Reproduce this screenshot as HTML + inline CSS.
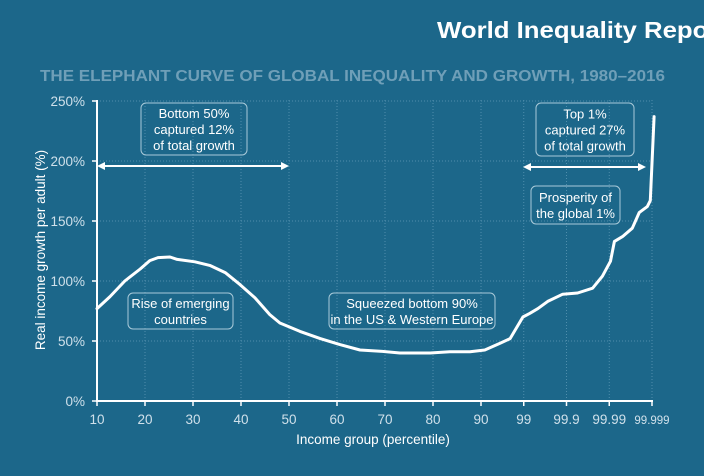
<!DOCTYPE html>
<html><head><meta charset="utf-8"><style>
html,body{margin:0;padding:0;background:#1c678a;overflow:hidden;}
svg{display:block;font-family:"Liberation Sans",sans-serif;}
</style></head><body>
<svg id="chart" width="704" height="476" viewBox="0 0 704 476">
<rect x="0" y="0" width="704" height="476" fill="#1c678a"/>
<text x="437" y="38" font-size="23" font-weight="bold" fill="#ffffff" textLength="290" lengthAdjust="spacingAndGlyphs">World Inequality Report</text>
<text x="40" y="81" font-size="16" font-weight="bold" fill="#6f9fb8" textLength="625" lengthAdjust="spacingAndGlyphs">THE ELEPHANT CURVE OF GLOBAL INEQUALITY AND GROWTH, 1980–2016</text>
<g id="grid"></g>
<g id="axes"></g>
<text transform="translate(45,250) rotate(-90)" font-size="13.5" fill="#ffffff" text-anchor="middle">Real income growth per adult (%)</text>
<text x="373" y="444" font-size="13.5" fill="#ffffff" text-anchor="middle">Income group (percentile)</text>
<g id="annot"></g>
<path id="curve" fill="none" stroke="#ffffff" stroke-width="3" stroke-linejoin="round" stroke-linecap="round"/>
</svg>
<script>
// x in "position index": 0..8 = percentiles 10..90, 9=99, 10=99.9, 11=99.99, 12=99.999
const xTickLabels = ["10","20","30","40","50","60","70","80","90","99","99.9","99.99","99.999"];
const yTickLabels = ["0%","50%","100%","150%","200%","250%"];
const yTickValues = [0,50,100,150,200,250];
const curveX = [0,0.27,0.58,0.90,1.10,1.27,1.52,1.67,2.04,2.35,2.67,2.98,3.29,3.60,3.81,4.23,4.65,5.06,5.48,5.90,6.31,6.94,7.35,7.77,8.09,8.44,8.68,8.98,9.14,9.33,9.56,9.91,10.26,10.61,10.84,11.03,11.12,11.31,11.54,11.70,11.89,11.96,12.05];
const curveY = [77,87,100,110,117,119.5,120,118,116,113,107,97,86,72,65,58,52,47,42.5,41.5,40,40,41,41,42.5,48,52,70,73,77,83,89,90,94,104,116.5,133,137,144,157,162,167,237];
const NS="http://www.w3.org/2000/svg";
function xs(i){return i<=8?97+48*i:481+42.75*(i-8);}
function ys(v){return 401-1.2*v;}
function mk(tag,attrs,parent){const e=document.createElementNS(NS,tag);for(const k in attrs)e.setAttribute(k,attrs[k]);parent.appendChild(e);return e;}
const grid=document.getElementById('grid'),axes=document.getElementById('axes'),ann=document.getElementById('annot');
yTickValues.forEach((v,i)=>{
  if(v>0){const l=mk('line',{x1:97,x2:652,y1:ys(v),y2:ys(v),stroke:'#4f8eac','stroke-width':1,'stroke-dasharray':'1,2'},grid);
  
  }
  const t=mk('line',{x1:92,x2:97,y1:ys(v),y2:ys(v),stroke:'#fff','stroke-width':1.5},axes);
  
  
  const tx=mk('text',{x:85,y:ys(v)+5,'font-size':13.5,fill:'#cfe0ea','text-anchor':'end'},axes);
  tx.textContent=yTickLabels[i];
  
  
});
xTickLabels.forEach((lab,i)=>{
  if(i>0){const l=mk('line',{x1:xs(i),x2:xs(i),y1:100,y2:401,stroke:'#4f8eac','stroke-width':1,'stroke-dasharray':'1,2'},grid);
  
  }
  const t=mk('line',{x1:xs(i),x2:xs(i),y1:401,y2:406,stroke:'#fff','stroke-width':1.5},axes);
  
  
  const tx=mk('text',{x:xs(i),y:424,'font-size':i==12?11.5:13.5,fill:'#cfe0ea','text-anchor':'middle'},axes);
  tx.textContent=lab;
  
  
});
const ya=mk('line',{x1:97,x2:97,y1:100,y2:401,stroke:'#fff','stroke-width':2},axes);


const xa=mk('line',{x1:96,x2:653,y1:401,y2:401,stroke:'#fff','stroke-width':2},axes);


let d='';curveX.forEach((x,i)=>{d+=(i?'L':'M')+xs(x).toFixed(1)+','+ys(curveY[i]).toFixed(1);});
document.getElementById('curve').setAttribute('d',d);
function box(x,y,w,h,lines,name){
  const g=mk('g',{},ann);
  
  
  mk('rect',{x:x,y:y,width:w,height:h,rx:5,fill:'none',stroke:'#a9cad9','stroke-width':1},g);
  const lh=16,start=y+h/2-(lines.length-1)*lh/2+5;
  lines.forEach((s,i)=>{const t=mk('text',{x:x+w/2,y:start+i*lh,'font-size':13,fill:'#fff','text-anchor':'middle'},g);t.textContent=s;});
}
function arrow(x1,x2,y,name){
  const g=mk('g',{},ann);
  
  
  mk('line',{x1:x1+4,x2:x2-4,y1:y,y2:y,stroke:'#fff','stroke-width':2},g);
  mk('path',{d:`M${x1},${y}l8,-4v8z M${x2},${y}l-8,-4v8z`,fill:'#fff'},g);
}
box(141,103,106,52,["Bottom 50%","captured 12%","of total growth"],'bottom50-annotation');
arrow(97,289,166,'bottom50-arrow');
box(536,103,98,53,["Top 1%","captured 27%","of total growth"],'top1-annotation');
arrow(523,646,167,'top1-arrow');
box(531,186,89,38,["Prosperity of","the global 1%"],'prosperity-annotation');
box(128,293,105,36,["Rise of emerging","countries"],'emerging-annotation');
box(329,293,166,36,["Squeezed bottom 90%","in the US & Western Europe"],'squeezed-annotation');
</script>
</body></html>
